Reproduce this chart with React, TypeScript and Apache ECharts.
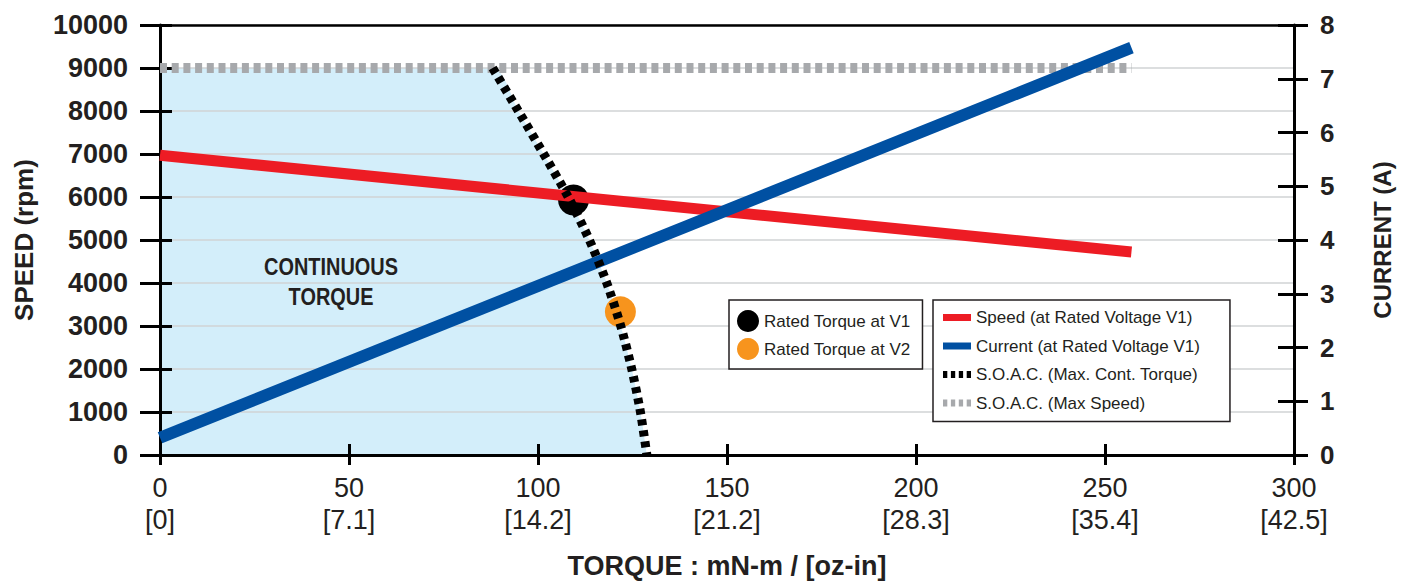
import React, { useEffect, useRef } from 'react';
import * as echarts from 'echarts';

// ---- data ----
const xTicks = [0, 50, 100, 150, 200, 250, 300];
const ozInLabels = ['[0]', '[7.1]', '[14.2]', '[21.2]', '[28.3]', '[35.4]', '[42.5]'];
const lineTorque = [0, 257];
const speedRpm = [6970, 4720];
const currentA = [0.32, 7.58];
const maxSpeedRpm = [9000, 9000];
const soacTorque = [88, 94.8, 101.5, 108.0, 113.6, 118.2, 121.9, 124.8, 127.1, 128.8];
const soacSpeed = [9000, 8000, 7000, 6000, 5000, 4000, 3000, 2000, 1000, 0];
const ratedV1 = [109.4, 5930];
const ratedV2 = [121.8, 3330];
const areaLabel = ['CONTINUOUS', 'TORQUE'];

const NAMES = {
  v1: 'Rated Torque at V1',
  v2: 'Rated Torque at V2',
  speed: 'Speed (at Rated Voltage V1)',
  current: 'Current (at Rated Voltage V1)',
  soacT: 'S.O.A.C. (Max. Cont. Torque)',
  soacS: 'S.O.A.C. (Max Speed)',
};

const SANS = "'Liberation Sans', Arial, sans-serif";
const INK = '#231f20';
const dashIcon = 'path://M0,0H4.3V7H0Z M7.9,0H12.2V7H7.9Z M15.8,0H20.1V7H15.8Z M23.7,0H28V7H23.7Z';

export default function App() {
  const ref = useRef<HTMLDivElement>(null);
  useEffect(() => {
    document.body.style.margin = '0';
    const chart = echarts.init(ref.current!, null, { renderer: 'svg' });
    const curve = soacTorque.map((t, i) => [t, soacSpeed[i]]);
    const fill = [[0, maxSpeedRpm[0]], ...curve];
    const yBase = { type: 'value', min: 0, max: 10000, interval: 1000, z: 1 };
    const y2Base = { type: 'value', min: 0, max: 8, interval: 1, z: 1 };
    const xBase = { type: 'value', min: 0, max: 300, interval: 50, z: 1 };
    const option: any = {
      animation: false,
      grid: { left: 160, right: 114, top: 25, bottom: 127, containLabel: false, outerBoundsMode: 'none' },
      xAxis: [
        {
          ...xBase,
          position: 'bottom',
          axisLine: { show: true, onZero: false, lineStyle: { color: '#000', width: 3 } },
          axisTick: { show: true, inside: false, length: 10, lineStyle: { color: '#000', width: 3 } },
          splitLine: { show: false },
          axisLabel: {
            margin: 17,
            fontFamily: SANS,
            fontSize: 27,
            color: INK,
            lineHeight: 32,
            formatter: (v: number) => {
              const i = xTicks.indexOf(v);
              return `${v}\n${i >= 0 ? ozInLabels[i] : ''}`;
            },
          },
          name: 'TORQUE : mN-m / [oz-in]',
          nameLocation: 'middle',
          nameGap: 97,
          nameTextStyle: { fontFamily: SANS, fontSize: 27, fontWeight: 'bold', color: INK },
        },
        {
          ...xBase,
          position: 'bottom',
          axisLine: { show: false, onZero: false },
          axisTick: { show: true, inside: true, length: 11, lineStyle: { color: '#000', width: 3 } },
          axisLabel: { show: false },
          splitLine: { show: false },
        },
        {
          ...xBase,
          position: 'top',
          axisLine: { show: true, onZero: false, lineStyle: { color: '#000', width: 2.5 } },
          axisTick: { show: false },
          axisLabel: { show: false },
          splitLine: { show: false },
        },
      ],
      yAxis: [
        {
          ...yBase,
          position: 'left',
          axisLine: { show: true, onZero: false, lineStyle: { color: '#000', width: 3 } },
          axisTick: { show: true, inside: false, length: 20, lineStyle: { color: '#000', width: 3 } },
          splitLine: { show: true, lineStyle: { color: '#d1d3d4', width: 1.5 } },
          axisLabel: {
            margin: 32,
            align: 'right',
            fontFamily: SANS,
            fontSize: 27,
            fontWeight: 'bold',
            color: INK,
            formatter: (v: number) => String(v),
          },
          name: 'SPEED (rpm)',
          nameLocation: 'middle',
          nameRotate: 90,
          nameGap: 123,
          nameTextStyle: { fontFamily: SANS, fontSize: 26, fontWeight: 'bold', color: INK },
        },
        {
          ...yBase,
          position: 'left',
          axisLine: { show: false, onZero: false },
          axisTick: { show: true, inside: true, length: 12, lineStyle: { color: '#000', width: 3 } },
          splitLine: { show: false },
          axisLabel: { show: false },
        },
        {
          ...y2Base,
          position: 'right',
          axisLine: { show: true, onZero: false, lineStyle: { color: '#000', width: 3 } },
          axisTick: { show: true, inside: false, length: 14, lineStyle: { color: '#000', width: 3 } },
          splitLine: { show: false },
          axisLabel: {
            margin: 26,
            align: 'left',
            fontFamily: SANS,
            fontSize: 26,
            fontWeight: 'bold',
            color: INK,
            formatter: (v: number) => String(v),
          },
          name: 'CURRENT (A)',
          nameLocation: 'middle',
          nameRotate: 90,
          nameGap: 76,
          nameTextStyle: { fontFamily: SANS, fontSize: 24, fontWeight: 'bold', color: INK },
        },
        {
          ...y2Base,
          position: 'right',
          axisLine: { show: false, onZero: false },
          axisTick: { show: true, inside: true, length: 16, lineStyle: { color: '#000', width: 3 } },
          splitLine: { show: false },
          axisLabel: { show: false },
        },
      ],
      legend: [
        {
          left: 729,
          top: 300,
          orient: 'vertical',
          selectedMode: false,
          backgroundColor: '#fff',
          borderColor: INK,
          borderWidth: 1.5,
          borderRadius: 0,
          padding: [10, 12, 9, 8],
          itemGap: 6,
          itemWidth: 22,
          itemHeight: 22,
          itemStyle: { borderWidth: 0 },
          textStyle: { fontFamily: SANS, fontSize: 17, color: INK },
          data: [
            { name: NAMES.v1, icon: 'circle' },
            { name: NAMES.v2, icon: 'circle' },
          ],
        },
        {
          left: 933,
          top: 300,
          orient: 'vertical',
          selectedMode: false,
          backgroundColor: '#fff',
          borderColor: INK,
          borderWidth: 1.5,
          borderRadius: 0,
          padding: [7, 30, 8, 10],
          itemGap: 7.5,
          itemWidth: 28,
          itemHeight: 7,
          itemStyle: { borderWidth: 0 },
          textStyle: { fontFamily: SANS, fontSize: 17, color: INK, lineHeight: 21 },
          data: [
            { name: NAMES.speed, icon: 'rect' },
            { name: NAMES.current, icon: 'rect' },
            { name: NAMES.soacT, icon: dashIcon },
            { name: NAMES.soacS, icon: dashIcon },
          ],
        },
      ],
      graphic: [
        {
          type: 'text',
          x: 331,
          y: 282,
          z: 5,
          scaleX: 0.83,
          style: {
            text: areaLabel.join('\n'),
            align: 'center',
            verticalAlign: 'middle',
            lineHeight: 30,
            font: `bold 24px ${SANS}`,
            fill: INK,
          },
        },
      ],
      series: [
        {
          name: 'CONTINUOUS TORQUE',
          type: 'line',
          z: 0,
          xAxisIndex: 0,
          yAxisIndex: 0,
          data: fill,
          smooth: 0.25,
          symbol: 'none',
          lineStyle: { width: 0 },
          areaStyle: { color: '#d3eefa', opacity: 1 },
          silent: true,
        },
        {
          name: NAMES.soacS,
          type: 'line',
          color: '#a7a9ac',
          xAxisIndex: 0,
          yAxisIndex: 0,
          data: lineTorque.map((t, i) => [t, maxSpeedRpm[i]]),
          symbol: 'none',
          lineStyle: { color: '#a7a9ac', width: 10, type: [7, 4.7] },
        },
        {
          name: NAMES.speed,
          type: 'line',
          color: '#ed1c24',
          xAxisIndex: 0,
          yAxisIndex: 0,
          data: lineTorque.map((t, i) => [t, speedRpm[i]]),
          symbol: 'none',
          lineStyle: { color: '#ed1c24', width: 11 },
        },
        {
          name: NAMES.current,
          type: 'line',
          color: '#0050a2',
          xAxisIndex: 0,
          yAxisIndex: 2,
          data: lineTorque.map((t, i) => [t, currentA[i]]),
          symbol: 'none',
          lineStyle: { color: '#0050a2', width: 12 },
        },
        {
          name: NAMES.soacT,
          type: 'line',
          color: '#000',
          xAxisIndex: 0,
          yAxisIndex: 0,
          data: curve,
          smooth: 0.25,
          symbol: 'none',
          lineStyle: { color: '#000', width: 9, type: [6, 5] },
        },
        {
          name: NAMES.v1,
          type: 'scatter',
          color: '#000',
          xAxisIndex: 0,
          yAxisIndex: 0,
          symbolSize: 31,
          data: [ratedV1],
          itemStyle: { color: '#000', opacity: 1 },
        },
        {
          name: NAMES.v2,
          type: 'scatter',
          color: '#f7941d',
          xAxisIndex: 0,
          yAxisIndex: 0,
          symbolSize: 31,
          data: [ratedV2],
          itemStyle: { color: '#f7941d', opacity: 1 },
        },
      ],
    };
    chart.setOption(option);
    return () => chart.dispose();
  }, []);
  return <div ref={ref} style={{ width: 1408, height: 582 }} />;
}
